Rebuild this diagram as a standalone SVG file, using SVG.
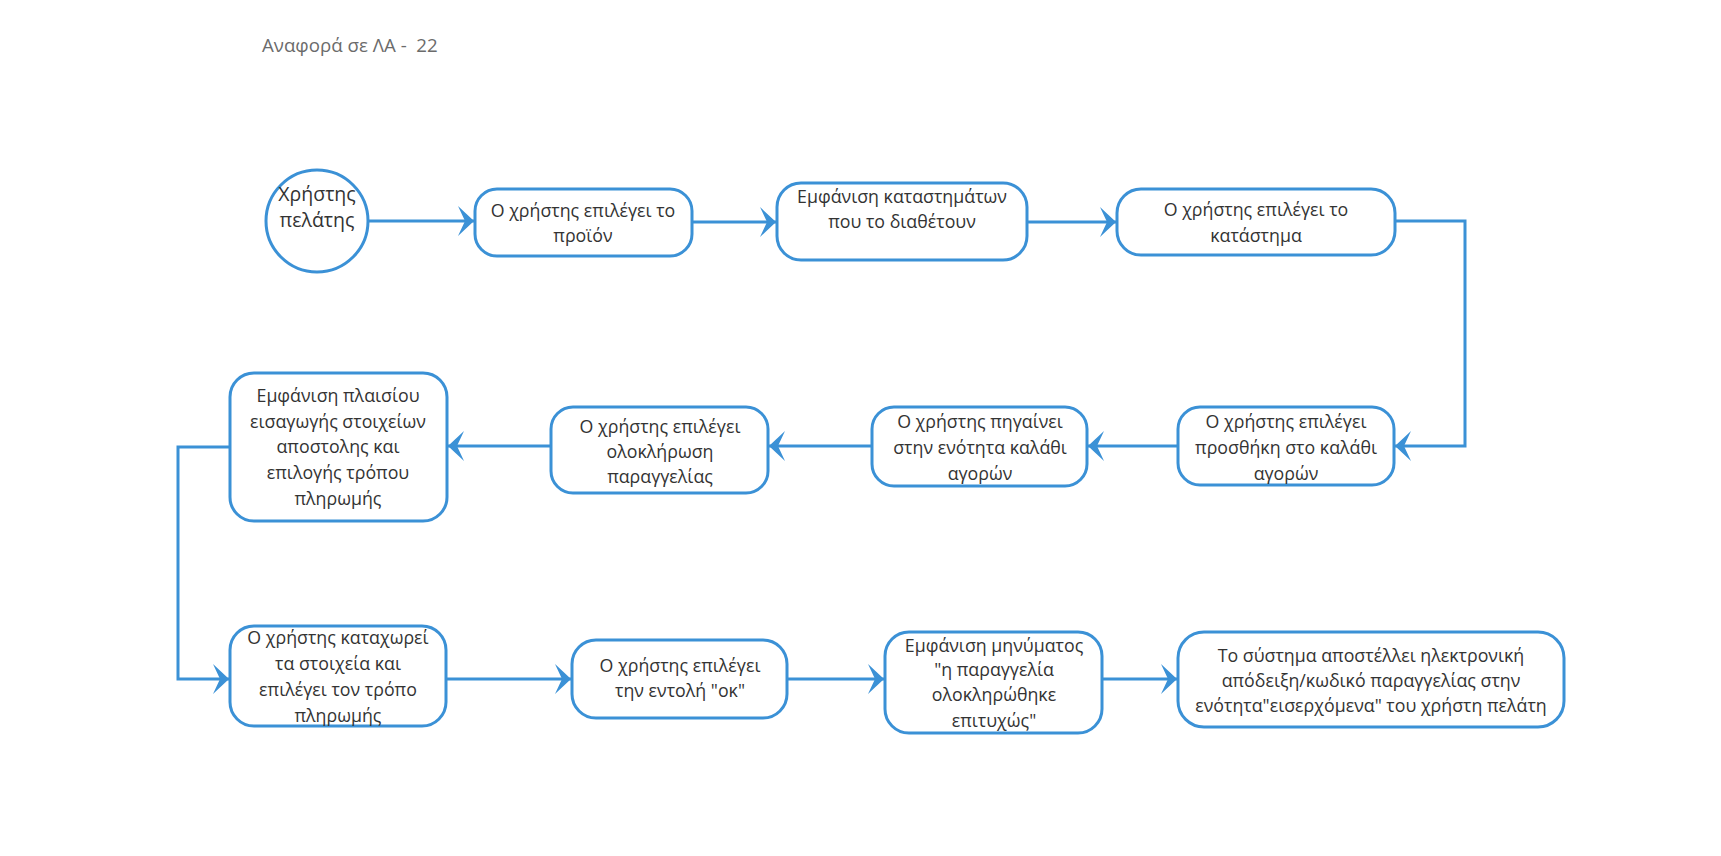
<svg xmlns="http://www.w3.org/2000/svg" width="1721" height="856" viewBox="0 0 1721 856">
  <style>
    .node { fill: #ffffff; stroke: #3b91d6; stroke-width: 3; }
    .lbl { font-family: "Open Sans", "Liberation Sans", Arial, sans-serif; font-size: 17.8px; fill: #333333; text-anchor: middle; }
    .big { font-size: 19.5px; }
    .title { font-family: "Open Sans", "Liberation Sans", Arial, sans-serif; font-size: 18.7px; fill: #6b6b6b; white-space: pre; }
    .edge { fill: none; stroke: #3b91d6; stroke-width: 3; }
  </style>
  <defs>
    <marker id="arrow" markerUnits="userSpaceOnUse" markerWidth="20" markerHeight="34" refX="16" refY="15" orient="auto" viewBox="0 0 20 30">
      <path d="M16,15 L0,0 L7,15 L0,30 Z" fill="#3b91d6"/>
    </marker>
  </defs>
  <rect width="1721" height="856" fill="#ffffff"/>

  <text class="title" x="262" y="52" xml:space="preserve">Αναφορά σε ΛΑ -  22</text>

  <g id="connectors">
    <path class="edge" d="M368,221 H474" marker-end="url(#arrow)"/>
    <path class="edge" d="M692,222 H776" marker-end="url(#arrow)"/>
    <path class="edge" d="M1027,222 H1116" marker-end="url(#arrow)"/>
    <path class="edge" d="M1395,221 H1465 V446 H1395" marker-end="url(#arrow)"/>
    <path class="edge" d="M1178,446 H1088" marker-end="url(#arrow)"/>
    <path class="edge" d="M872,446 H769" marker-end="url(#arrow)"/>
    <path class="edge" d="M551,446 H448" marker-end="url(#arrow)"/>
    <path class="edge" d="M230,447 H178 V679 H229" marker-end="url(#arrow)"/>
    <path class="edge" d="M446,679 H571" marker-end="url(#arrow)"/>
    <path class="edge" d="M787,679 H884" marker-end="url(#arrow)"/>
    <path class="edge" d="M1102,679 H1177" marker-end="url(#arrow)"/>
  </g>

  <g id="customer">
    <circle class="node" cx="317" cy="221" r="51"/>
    <text class="lbl big" x="317" y="201">Χρήστης</text>
    <text class="lbl big" x="317" y="227">πελάτης</text>
  </g>

  <g id="select-product">
    <rect class="node" x="475" y="189" width="217" height="67" rx="22"/>
    <text class="lbl" x="583" y="217">Ο χρήστης επιλέγει το</text>
    <text class="lbl" x="583" y="242">προϊόν</text>
  </g>

  <g id="show-stores">
    <rect class="node" x="777" y="183" width="250" height="77" rx="24"/>
    <text class="lbl" x="902" y="203">Εμφάνιση καταστημάτων</text>
    <text class="lbl" x="902" y="228">που το διαθέτουν</text>
  </g>

  <g id="select-store">
    <rect class="node" x="1117" y="189" width="278" height="66" rx="24"/>
    <text class="lbl" x="1256" y="216">Ο χρήστης επιλέγει το</text>
    <text class="lbl" x="1256" y="242">κατάστημα</text>
  </g>

  <g id="add-to-cart">
    <rect class="node" x="1178" y="407" width="216" height="78" rx="22"/>
    <text class="lbl" x="1286" y="428">Ο χρήστης επιλέγει</text>
    <text class="lbl" x="1286" y="454">προσθήκη στο καλάθι</text>
    <text class="lbl" x="1286" y="480">αγορών</text>
  </g>

  <g id="go-to-cart">
    <rect class="node" x="872" y="407" width="215" height="79" rx="22"/>
    <text class="lbl" x="980" y="428">Ο χρήστης πηγαίνει</text>
    <text class="lbl" x="980" y="454">στην ενότητα καλάθι</text>
    <text class="lbl" x="980" y="480">αγορών</text>
  </g>

  <g id="complete-order">
    <rect class="node" x="551" y="407" width="217" height="86" rx="22"/>
    <text class="lbl" x="660" y="433">Ο χρήστης επιλέγει</text>
    <text class="lbl" x="660" y="458">ολοκλήρωση</text>
    <text class="lbl" x="660" y="483">παραγγελίας</text>
  </g>

  <g id="shipping-form">
    <rect class="node" x="230" y="373" width="217" height="148" rx="24"/>
    <text class="lbl" x="338" y="402">Εμφάνιση πλαισίου</text>
    <text class="lbl" x="338" y="428">εισαγωγής στοιχείων</text>
    <text class="lbl" x="338" y="453">αποστολης και</text>
    <text class="lbl" x="338" y="479">επιλογής τρόπου</text>
    <text class="lbl" x="338" y="505">πληρωμής</text>
  </g>

  <g id="enter-details">
    <rect class="node" x="230" y="626" width="216" height="100" rx="24"/>
    <text class="lbl" x="338" y="644">Ο χρήστης καταχωρεί</text>
    <text class="lbl" x="338" y="670">τα στοιχεία και</text>
    <text class="lbl" x="338" y="696">επιλέγει τον τρόπο</text>
    <text class="lbl" x="338" y="722">πληρωμής</text>
  </g>

  <g id="press-ok">
    <rect class="node" x="572" y="640" width="215" height="78" rx="24"/>
    <text class="lbl" x="680" y="672">Ο χρήστης επιλέγει</text>
    <text class="lbl" x="680" y="697">την εντολή "οκ"</text>
  </g>

  <g id="success-message">
    <rect class="node" x="885" y="632" width="217" height="101" rx="24"/>
    <text class="lbl" x="994" y="652">Εμφάνιση μηνύματος</text>
    <text class="lbl" x="994" y="676">"η παραγγελία</text>
    <text class="lbl" x="994" y="701">ολοκληρώθηκε</text>
    <text class="lbl" x="994" y="727">επιτυχώς"</text>
  </g>

  <g id="send-receipt">
    <rect class="node" x="1178" y="632" width="386" height="95" rx="26"/>
    <text class="lbl" x="1371" y="662">Το σύστημα αποστέλλει ηλεκτρονική</text>
    <text class="lbl" x="1371" y="687">απόδειξη/κωδικό παραγγελίας στην</text>
    <text class="lbl" x="1371" y="712">ενότητα"εισερχόμενα" του χρήστη πελάτη</text>
  </g>
</svg>
